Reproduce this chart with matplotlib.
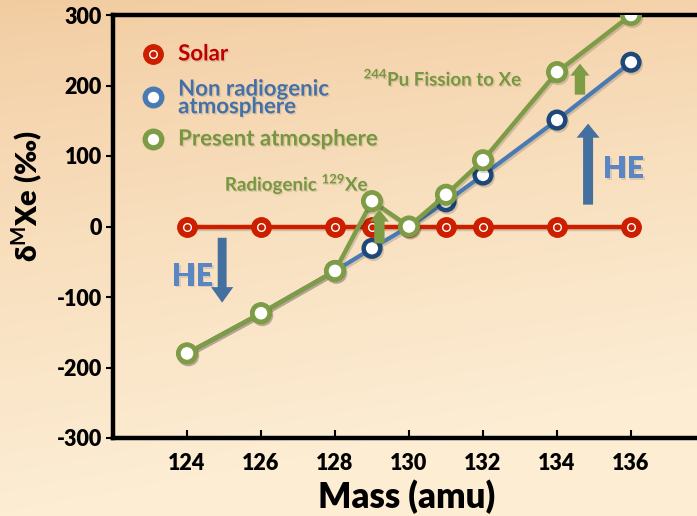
import numpy as np
import matplotlib
matplotlib.use("Agg")
import matplotlib.pyplot as plt
import matplotlib.patheffects as pe

plt.rcParams["font.family"] = ["Lato", "DejaVu Sans"]
plt.rcParams["font.weight"] = "bold"
plt.rcParams["axes.unicode_minus"] = False
plt.rcParams["mathtext.fontset"] = "custom"
plt.rcParams["mathtext.rm"] = "Lato:bold"
plt.rcParams["mathtext.bf"] = "Lato:bold"

# --- data -------------------------------------------------------------
mass = [124, 126, 128, 129, 130, 131, 132, 134, 136]
solar = [0, 0, 0, 0, 0, 0, 0, 0, 0]
non_radiogenic = [-180, -123, -63, -31, 0, 35, 73, 151, 233]
present_atm = [-180, -123, -63, 36, 0, 45, 94, 219, 300]

x_ticks = [124, 126, 128, 130, 132, 134, 136]
y_ticks = [-300, -200, -100, 0, 100, 200, 300]

RED = "#cc1f00"
RED_TXT = "#c00000"
BLUE_LINE = "#4a7ab3"
BLUE_EDGE = "#1d4877"
BLUE_TXT = "#4470a8"
GREEN = "#7d9c45"
GREEN_TXT = "#76973f"
HE_BLUE = "#5a87c4"
ARROW_BLUE = "#44709f"

W, H = 697, 516
fig = plt.figure(figsize=(W / 100, H / 100), dpi=100)

# warm background gradient
bg = fig.add_axes([0, 0, 1, 1], zorder=-10)
yy, xx = np.mgrid[0:1:200j, 0:1:200j]
top = np.array([0.95, 0.80, 0.63])
bottom = np.array([0.99, 0.93, 0.83])
t = np.clip(yy ** 0.8 + 0.2 * xx, 0, 1)[..., None]
img = top * (1 - t) + bottom * t
bg.imshow(img, aspect="auto", extent=[0, 1, 0, 1], origin="upper")
bg.axis("off")

ax = fig.add_axes([113 / W, (H - 438) / H, 592 / W, 423 / H])
ax.patch.set_alpha(0)
ax.set_xlim(122, 138)
ax.set_ylim(-300, 300)

for side in ["left", "bottom", "top"]:
    ax.spines[side].set_linewidth(3.2)
    ax.spines[side].set_color("black")
ax.spines["right"].set_visible(False)

ax.set_xticks(x_ticks)
ax.set_yticks(y_ticks)
ax.tick_params(axis="x", direction="in", length=6, width=1.5, pad=11,
               labelsize=15.5)
ax.tick_params(axis="y", direction="out", length=5, width=1.5, pad=3,
               labelsize=15.5)
for lab in ax.get_xticklabels() + ax.get_yticklabels():
    lab.set_fontweight("heavy")

shadow = [pe.SimpleLineShadow(offset=(1, -1.5), alpha=0.15), pe.Normal()]
txt_shadow = [pe.withSimplePatchShadow(offset=(1, -1), alpha=0.12)]

# lines
ax.plot(mass, non_radiogenic, color=BLUE_LINE, lw=3.0, zorder=2,
        marker="o", ms=12, mfc="white", mec=BLUE_EDGE, mew=3.2,
        path_effects=shadow)
ax.plot(mass, solar, color=RED, lw=3.2, zorder=3, path_effects=shadow)
ax.plot(mass, solar, ls="none", marker="o", ms=14, mfc=RED, mec=RED,
        zorder=3)
ax.plot(mass, solar, ls="none", marker="o", ms=5.5, mfc=RED, mec="white",
        mew=1.0, zorder=3)
ax.plot(mass, present_atm, color=GREEN, lw=3.2, zorder=5,
        marker="o", ms=12.5, mfc="white", mec=GREEN, mew=3.4,
        path_effects=shadow)

# arrows
ax.arrow(124.95, -16, 0, -92, width=0.24, head_width=0.6,
         head_length=22, length_includes_head=True, color=ARROW_BLUE,
         lw=0, zorder=4)
ax.arrow(134.84, 31, 0, 115, width=0.27, head_width=0.62,
         head_length=20, length_includes_head=True, color=ARROW_BLUE,
         lw=0, zorder=4)
ax.arrow(129.2, -24, 0, 48, width=0.28, head_width=0.52,
         head_length=17, length_includes_head=True, color=GREEN,
         lw=0, zorder=6)
ax.arrow(134.62, 187, 0, 44, width=0.28, head_width=0.52,
         head_length=17, length_includes_head=True, color=GREEN,
         lw=0, zorder=6)

ax.text(124.15, -71, "HE", color=HE_BLUE, fontsize=22, fontweight="heavy",
        ha="center", va="center", path_effects=txt_shadow)
ax.text(135.8, 81, "HE", color=HE_BLUE, fontsize=22, fontweight="heavy",
        ha="center", va="center", path_effects=txt_shadow)
ax.text(126.97, 61, r"Radiogenic $^{129}$Xe", color=GREEN_TXT, fontsize=13.5,
        ha="center", va="center", path_effects=txt_shadow)
ax.text(130.92, 211, r"$^{244}$Pu Fission to Xe", color=GREEN_TXT,
        fontsize=13.5, ha="center", va="center", path_effects=txt_shadow)

# hand-placed key
key_x, key_tx = 0.0676, 0.110
ax.plot([key_x], [0.908], transform=ax.transAxes, marker="o", ms=14,
        mfc=RED, mec=RED, clip_on=False)
ax.plot([key_x], [0.908], transform=ax.transAxes, marker="o", ms=5.5,
        mfc=RED, mec="white", mew=1.0, clip_on=False)
ax.plot([key_x], [0.806], transform=ax.transAxes, marker="o", ms=12,
        mfc="white", mec=BLUE_LINE, mew=3.8, clip_on=False)
ax.plot([key_x], [0.707], transform=ax.transAxes, marker="o", ms=12,
        mfc="white", mec=GREEN, mew=3.8, clip_on=False)
ax.text(key_tx, 0.908, "Solar", transform=ax.transAxes, color=RED_TXT,
        fontsize=16, va="center", path_effects=txt_shadow)
ax.text(key_tx, 0.804, "Non radiogenic\natmosphere", transform=ax.transAxes,
        color=BLUE_TXT, fontsize=16, va="center", linespacing=0.8,
        path_effects=txt_shadow)
ax.text(key_tx, 0.707, "Present atmosphere", transform=ax.transAxes,
        color=GREEN_TXT, fontsize=16, va="center", path_effects=txt_shadow)

fig.text(28 / W, 1 - 196 / H, r"δ$^{\mathrm{M}}$Xe (‰)", rotation=90,
         fontsize=21, fontweight="heavy", ha="center", va="center")
fig.text(407 / W, 1 - 497 / H, "Mass (amu)", fontsize=25,
         fontweight="heavy", ha="center", va="center")

fig.savefig("out.png", dpi=100)
